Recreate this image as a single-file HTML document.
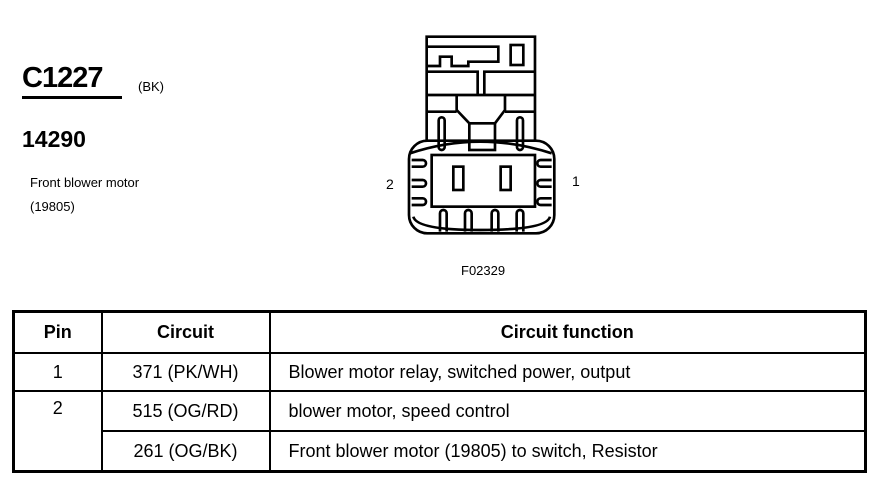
<!DOCTYPE html>
<html><head><style>
body{margin:0;width:884px;height:480px;background:#fff;position:relative;font-family:"Liberation Sans",Arial,sans-serif;color:#000;overflow:hidden}
.a{position:absolute;white-space:nowrap}
table{position:absolute;left:12px;top:310px;width:855px;table-layout:fixed;border-collapse:collapse;border:3px solid #000}
td{border:2px solid #000;font-size:18px;padding:0 0 0 18px;height:36px;white-space:nowrap}
th{border:2px solid #000;font-size:18px;height:37px}
</style></head><body>
<div class="a" style="left:22px;top:62px;font-size:29px;font-weight:bold;letter-spacing:-1px">C1227</div>
<div class="a" style="left:22px;top:96px;width:100px;height:3px;background:#000"></div>
<div class="a" style="left:138px;top:79px;font-size:13px">(BK)</div>
<div class="a" style="left:22px;top:126px;font-size:23px;font-weight:bold">14290</div>
<div class="a" style="left:30px;top:175px;font-size:13px">Front blower motor</div>
<div class="a" style="left:30px;top:199px;font-size:13px">(19805)</div>
<div class="a" style="left:386px;top:176px;font-size:14px">2</div>
<div class="a" style="left:572px;top:173px;font-size:14px">1</div>
<div class="a" style="left:461px;top:263px;font-size:13px">F02329</div>
<svg class="a" style="left:0;top:0" width="884" height="480">
<g transform="translate(380,30) scale(0.3333)" fill="none" stroke="#000" stroke-width="8">
<path d="M140,335 V20 H465 V335"/>
<path d="M140,50 H355 V95 H265 V108 H215 V80 H180 V108 H140"/>
<rect x="392" y="45" width="38" height="60"/>
<path d="M140,125 H293 V195 M313,195 V125 H465"/>
<path d="M140,195 H465"/>
<path d="M140,245 H230 M375,245 H465 M230,195 V240 L268,280 M375,195 V240 L345,280"/>
<rect x="268" y="280" width="77" height="80"/>
<rect x="176" y="262" width="18" height="98" rx="9"/>
<rect x="411" y="262" width="18" height="98" rx="9"/>
<path d="M90,370 Q300,300 515,370"/>
<rect x="87" y="332" width="436" height="278" rx="55"/>
<path d="M100,560 Q110,600 300,600 Q500,600 510,560"/>
<rect x="155" y="375" width="310" height="155"/>
<rect x="220" y="410" width="30" height="70"/>
<rect x="362" y="410" width="30" height="70"/>
<path d="M95,390 H128 A10,10 0 0 1 128,410 H95 M95,450 H128 A10,10 0 0 1 128,470 H95 M95,505 H128 A10,10 0 0 1 128,525 H95"/>
<path d="M515,390 H482 A10,10 0 0 0 482,410 H515 M515,450 H482 A10,10 0 0 0 482,470 H515 M515,505 H482 A10,10 0 0 0 482,525 H515"/>
<path d="M180,605 V550 A10,10 0 0 1 200,550 V605 M255,605 V550 A10,10 0 0 1 275,550 V605 M335,605 V550 A10,10 0 0 1 355,550 V605 M410,605 V550 A10,10 0 0 1 430,550 V605"/>
</g></svg>
<table>
<colgroup><col style="width:88px"><col style="width:168px"><col></colgroup>
<tr><th>Pin</th><th>Circuit</th><th>Circuit function</th></tr>
<tr><td style="text-align:center;padding:0">1</td><td style="text-align:center;padding:0">371 (PK/WH)</td><td>Blower motor relay, switched power, output</td></tr>
<tr><td rowspan="2" style="text-align:center;padding:0;vertical-align:top;padding-top:6px">2</td><td style="text-align:center;padding:0;height:38px">515 (OG/RD)</td><td>blower motor, speed control</td></tr>
<tr><td style="text-align:center;padding:0;height:38px">261 (OG/BK)</td><td>Front blower motor (19805) to switch, Resistor</td></tr>
</table>
</body></html>
